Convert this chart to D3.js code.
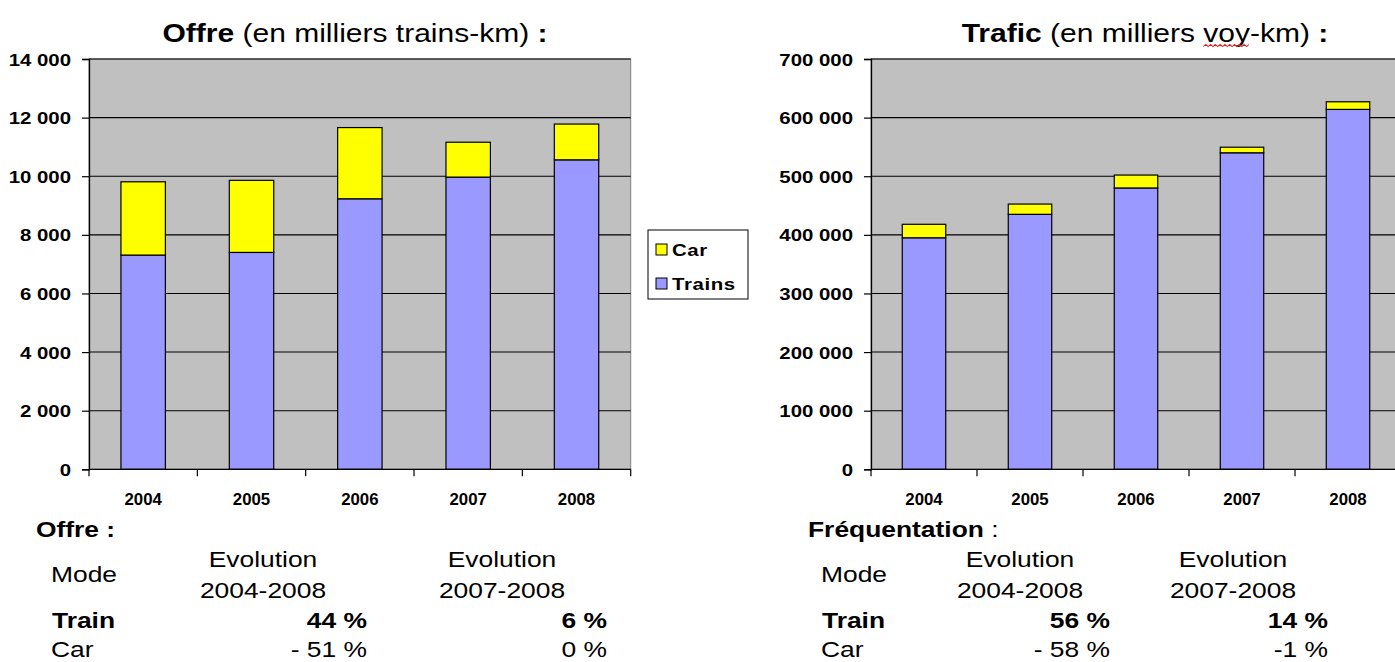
<!DOCTYPE html>
<html>
<head>
<meta charset="utf-8">
<script src="https://cdn.jsdelivr.net/npm/d3@7"></script>
<style>
  body { margin: 0; background: #fff; }
  svg { display: block; font-family: "Liberation Sans", Arial, sans-serif; }
</style>
</head>
<body>
<div id="chart"></div>
<script>
// data
var years = ["2004", "2005", "2006", "2007", "2008"];
var offreTrains = [7310, 7400, 9230, 9970, 10560];
var offreCar = [2500, 2460, 2430, 1190, 1220];
var traficTrains = [395000, 435000, 480000, 540000, 614000];
var traficCar = [23000, 17500, 22000, 9500, 13000];
var seriesNames = ["Car", "Trains"];
var offreTicks = [0, 2000, 4000, 6000, 8000, 10000, 12000, 14000];
var traficTicks = [0, 100000, 200000, 300000, 400000, 500000, 600000, 700000];

// table under the charts
var tableHeads = ["Evolution", "Evolution"];
var tablePeriods = ["2004-2008", "2007-2008"];
var tableModes = ["Train", "Car"];
var offreEvol = [["44 %", "6 %"], ["- 51 %", "0 %"]];
var freqEvol = [["56 %", "14 %"], ["- 58 %", "-1 %"]];

var W = 1395, H = 662;
var SX = 1.2; // the original picture is stretched horizontally
var fr = d3.formatLocale({ decimal: ",", thousands: " ", grouping: [3], currency: ["", " €"] });
var fmt = fr.format(",");

var svg = d3.select("#chart").append("svg")
    .attr("width", W)
    .attr("height", H);

// text stretched like the source picture
function stext(parent, x, y, str, size, weight, anchor, sx) {
    var g = parent.append("g")
        .attr("transform", "translate(" + x + "," + y + ") scale(" + (sx || SX) + ",1)");
    return g.append("text")
        .attr("text-anchor", anchor || "start")
        .style("font-size", size + "px")
        .style("font-weight", weight || "normal")
        .style("fill", "#000")
        .text(str);
}

function stackChart(cfg) {
    var x = d3.scaleBand()
        .domain(years)
        .range([cfg.left, cfg.right])
        .paddingInner(0.59)
        .paddingOuter(0.295);

    var y = d3.scaleLinear()
        .domain([0, cfg.max])
        .range([469.3, 59]);

    var g = svg.append("g");

    // plot area
    g.append("rect")
        .attr("x", cfg.left)
        .attr("y", y(cfg.max))
        .attr("width", cfg.right - cfg.left)
        .attr("height", y(0) - y(cfg.max))
        .style("fill", "#c0c0c0")
        .style("stroke", "#808080");

    // gridlines
    g.selectAll(".grid")
        .data(cfg.ticks.slice(1))
        .enter()
        .append("line")
        .attr("x1", cfg.left)
        .attr("x2", cfg.right)
        .attr("y1", function(d) { return y(d); })
        .attr("y2", function(d) { return y(d); })
        .style("stroke", "#000")
        .style("stroke-width", 1.1);

    var stack = years.map(function(yr, i) {
        return { year: yr, trains: cfg.trains[i], car: cfg.car[i] };
    });

    // trains
    g.selectAll(".bar-trains")
        .data(stack)
        .enter()
        .append("rect")
        .attr("x", function(d) { return x(d.year); })
        .attr("width", x.bandwidth())
        .attr("y", function(d) { return y(d.trains); })
        .attr("height", function(d) { return y(0) - y(d.trains); })
        .style("fill", "#9999ff")
        .style("stroke", "#000")
        .style("stroke-width", 1.2);

    // car on top
    g.selectAll(".bar-car")
        .data(stack)
        .enter()
        .append("rect")
        .attr("x", function(d) { return x(d.year); })
        .attr("width", x.bandwidth())
        .attr("y", function(d) { return y(d.trains + d.car); })
        .attr("height", function(d) { return y(d.trains) - y(d.trains + d.car); })
        .style("fill", "#ffff00")
        .style("stroke", "#000")
        .style("stroke-width", 1.2);

    // y axis
    var yAxis = g.append("g")
        .attr("transform", "translate(" + cfg.left + ",0)")
        .call(d3.axisLeft(y).tickValues(cfg.ticks).tickFormat(fmt).tickSize(7).tickPadding(0));
    yAxis.select(".domain").style("stroke", "#000").style("stroke-width", 1.3);
    yAxis.selectAll(".tick line").style("stroke", "#000").style("stroke-width", 1.2);
    yAxis.selectAll(".tick text")
        .attr("x", -cfg.labelGap / SX)
        .attr("dy", "0.36em")
        .attr("transform", "scale(" + SX + ",1)")
        .style("font-size", "17px")
        .style("font-weight", "bold")
        .style("font-family", "'Liberation Sans', Arial, sans-serif")
        .style("fill", "#000");

    // x axis line and ticks between the categories
    g.append("line")
        .attr("x1", cfg.left)
        .attr("x2", cfg.right)
        .attr("y1", y(0))
        .attr("y2", y(0))
        .style("stroke", "#000")
        .style("stroke-width", 1.3);

    var bounds = d3.range(years.length + 1).map(function(i) {
        return x.range()[0] + i * x.step();
    });
    g.selectAll(".xtick")
        .data(bounds)
        .enter()
        .append("line")
        .attr("x1", function(d) { return d; })
        .attr("x2", function(d) { return d; })
        .attr("y1", y(0))
        .attr("y2", y(0) + 7)
        .style("stroke", "#000")
        .style("stroke-width", 1.2);

    years.forEach(function(yr) {
        stext(g, x(yr) + x.bandwidth() / 2, 505, yr, 16, "bold", "middle", 1.05);
    });

    return g;
}

stackChart({ left: 89, right: 630.7, max: 14000, ticks: offreTicks, trains: offreTrains, car: offreCar, labelGap: 18 });
stackChart({ left: 871, right: 1401, max: 700000, ticks: traficTicks, trains: traficTrains, car: traficCar, labelGap: 18 });

// titles
function title(cx, bold1, mid, bold2) {
    var g = svg.append("g")
        .attr("transform", "translate(" + cx + ",42) scale(" + SX + ",1)");
    var t = g.append("text")
        .attr("text-anchor", "middle")
        .style("font-size", "25px");
    t.append("tspan").style("font-weight", "bold").text(bold1);
    t.append("tspan").text(mid);
    t.append("tspan").style("font-weight", "bold").text(bold2);
    return { g: g, t: t };
}
title(355, "Offre", " (en milliers trains-km) ", ":");
var tr = title(1145, "Trafic", " (en milliers voy-km) ", ":");

// spell-check squiggle under "voy"
(function() {
    var node = tr.t.node();
    var full = "Trafic (en milliers voy-km) :";
    var i0 = full.indexOf("voy");
    var start = node.getStartPositionOfChar(i0).x;
    var len = node.getSubStringLength(i0, 3);
    var pts = [];
    for (var k = 0; k * 2 <= len; k++) {
        pts.push([start + k * 2, k % 2 ? 2.5 : 4.5]);
    }
    tr.g.append("path")
        .attr("d", d3.line()(pts))
        .style("fill", "none")
        .style("stroke", "#e02020")
        .style("stroke-width", 0.9);
})();

// legend
var leg = svg.append("g");
leg.append("rect")
    .attr("x", 648).attr("y", 230)
    .attr("width", 100).attr("height", 69)
    .style("fill", "#fff").style("stroke", "#000");
var legColor = d3.scaleOrdinal().domain(seriesNames).range(["#ffff00", "#9999ff"]);
seriesNames.forEach(function(name, i) {
    leg.append("rect")
        .attr("x", 656).attr("y", 244 + i * 34)
        .attr("width", 11).attr("height", 11)
        .style("fill", legColor(name)).style("stroke", "#000");
    stext(leg, 672, 255.5 + i * 34, name, 17, "bold")
        .style("letter-spacing", "0.5px");
});

// evolution tables
function table(cfg) {
    var g = svg.append("g");
    var head = stext(g, cfg.head, 537, "", 22);
    head.append("tspan").style("font-weight", "bold").text(cfg.label);
    head.append("tspan").style("font-weight", cfg.colonBold ? "bold" : "normal").text(" :");
    stext(g, cfg.mode, 582, "Mode", 22);
    tableHeads.forEach(function(h, j) {
        stext(g, cfg.cols[j], 567, h, 22, "normal", "middle");
        stext(g, cfg.cols[j], 597.5, tablePeriods[j], 22, "normal", "middle");
    });
    tableModes.forEach(function(m, i) {
        var w = i === 0 ? "bold" : "normal";
        stext(g, cfg.mode + (i === 0 ? 1 : 0), 628 + i * 29, m, 22, w);
        cfg.values[i].forEach(function(v, j) {
            stext(g, cfg.ends[j], 628 + i * 29, v, 22, w, "end");
        });
    });
}
table({ head: 36, label: "Offre", colonBold: true, mode: 51, cols: [263, 502], ends: [367, 607], values: offreEvol });
table({ head: 808, label: "Fréquentation", colonBold: false, mode: 821, cols: [1020, 1233], ends: [1110, 1328], values: freqEvol });
</script>
</body>
</html>
